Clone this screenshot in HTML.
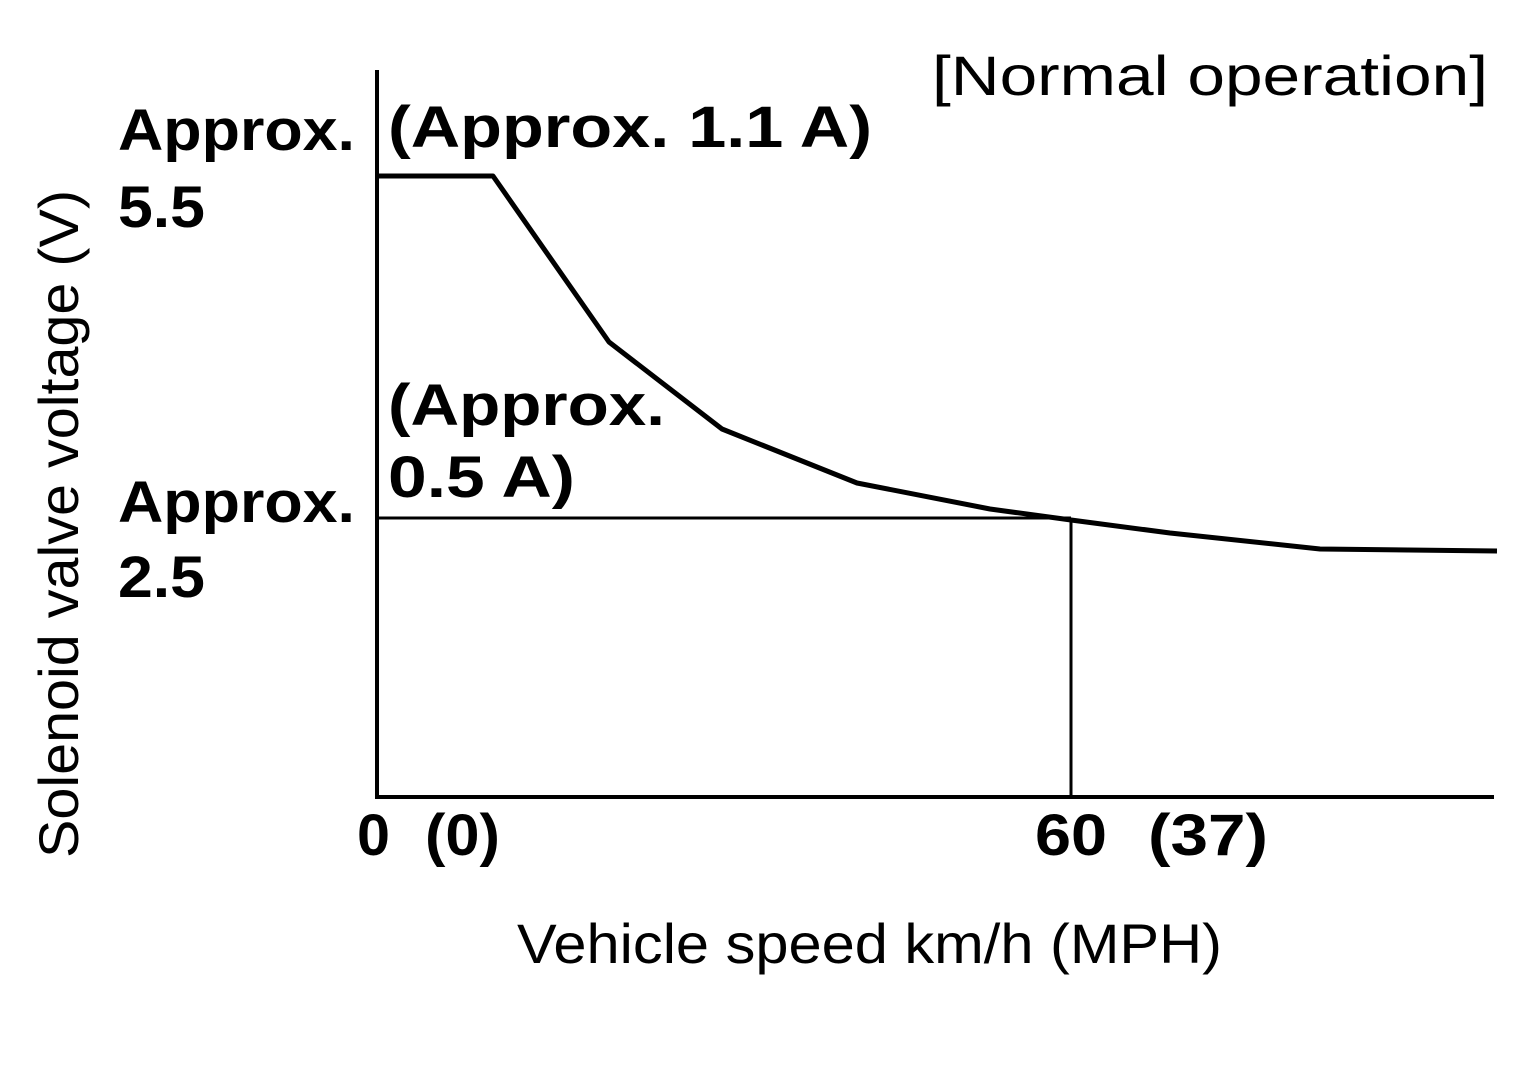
<!DOCTYPE html>
<html><head><style>
html,body{margin:0;padding:0;background:#fff;}
</style></head><body>
<svg width="1535" height="1087" viewBox="0 0 1535 1087" xmlns="http://www.w3.org/2000/svg">
<rect width="1535" height="1087" fill="#fff"/>
<g stroke="#000" fill="none">
<line x1="377" y1="70" x2="377" y2="799" stroke-width="4"/>
<line x1="375" y1="797" x2="1494" y2="797" stroke-width="4"/>
<line x1="377" y1="518" x2="1071" y2="518" stroke-width="3"/>
<line x1="1071" y1="518" x2="1071" y2="797" stroke-width="3"/>
<polyline points="377,176 493,176 609,342 722,429 857,483 990,509 1071,520 1170,533 1320,549 1497,551" stroke-width="5" stroke-linejoin="round"/>
</g>
<g font-family="Liberation Sans, sans-serif" fill="#000">
<text x="932" y="95" font-size="56" textLength="556" lengthAdjust="spacingAndGlyphs">[Normal operation]</text>
<g font-weight="bold" font-size="58" lengthAdjust="spacingAndGlyphs">
<text x="118" y="150" textLength="237" lengthAdjust="spacingAndGlyphs">Approx.</text>
<text x="118" y="227" textLength="87" lengthAdjust="spacingAndGlyphs">5.5</text>
<text x="388" y="147" textLength="484" lengthAdjust="spacingAndGlyphs">(Approx. 1.1 A)</text>
<text x="388" y="425" textLength="277" lengthAdjust="spacingAndGlyphs">(Approx.</text>
<text x="388" y="497" textLength="187" lengthAdjust="spacingAndGlyphs">0.5 A)</text>
<text x="118" y="522" textLength="237" lengthAdjust="spacingAndGlyphs">Approx.</text>
<text x="118" y="597" textLength="87" lengthAdjust="spacingAndGlyphs">2.5</text>
<text x="357" y="855" textLength="33" lengthAdjust="spacingAndGlyphs">0</text>
<text x="425" y="855" textLength="75" lengthAdjust="spacingAndGlyphs">(0)</text>
<text x="1035" y="855" textLength="72" lengthAdjust="spacingAndGlyphs">60</text>
<text x="1148" y="855" textLength="120" lengthAdjust="spacingAndGlyphs">(37)</text>
</g>
<text x="517" y="963" font-size="56" textLength="705" lengthAdjust="spacingAndGlyphs">Vehicle speed km/h (MPH)</text>
<text transform="translate(78,858) rotate(-90)" font-size="56" textLength="668" lengthAdjust="spacingAndGlyphs">Solenoid valve voltage (V)</text>
</g>
</svg>
</body></html>
